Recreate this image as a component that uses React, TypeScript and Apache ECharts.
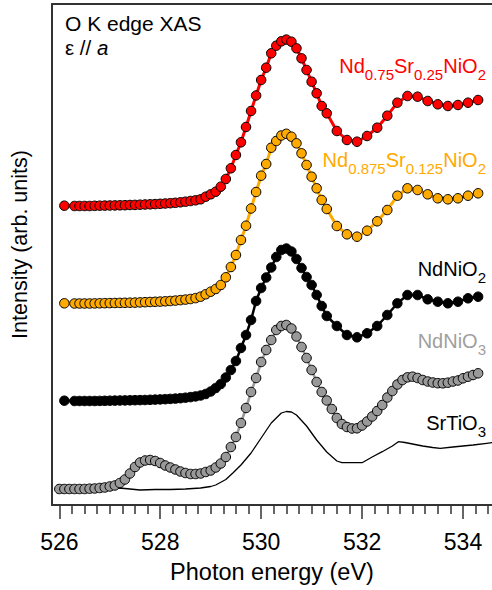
import React, { useEffect, useRef } from "react";
import * as echarts from "echarts";

// Photon energy grid (eV) of the three upper spectra
const E_MAIN = [
  526.1, 526.3, 526.4, 526.5, 526.6, 526.7, 526.8, 526.9, 527.0, 527.1, 527.2, 527.3, 527.4,
  527.5, 527.6, 527.7, 527.8, 527.9, 528.0, 528.1, 528.2, 528.3, 528.4, 528.5, 528.6, 528.7,
  528.8, 528.9, 529.0, 529.1, 529.2, 529.3, 529.4, 529.5, 529.6, 529.7, 529.8, 529.9, 530.0,
  530.1, 530.2, 530.3, 530.4, 530.5, 530.6, 530.7, 530.8, 530.9, 531.0, 531.1, 531.2, 531.3,
  531.5, 531.7, 531.9, 532.1, 532.3, 532.5, 532.7, 532.9, 533.1, 533.3, 533.5, 533.7, 533.9,
  534.1, 534.3,
];

// Nd0.75Sr0.25NiO2 (offset intensity, arb. units)
const RED = [
  299.3, 299, 299, 299, 299, 299.2, 299.3, 299.4, 299.5, 299.6, 299.7, 299.8, 300, 300.1, 300.3,
  300.5, 300.7, 300.9, 301.2, 301.5, 301.8, 302.2, 302.7, 303.3, 304, 304.7,
  305.7, 308.3, 310.7, 313.3, 318.3, 326, 336.7, 350, 362.7, 378, 394, 409.5, 425, 437.3, 451.7,
  459.3, 463.7, 465.4, 463.3, 456.7, 446.7, 435, 423.3, 411.7, 399, 391.7,
  374, 365, 363.3, 369, 377.3, 389.3, 402.3, 409, 408.3, 404, 400.7, 399, 400, 402.3, 405,
];

// Nd0.875Sr0.125NiO2
const ORANGE = [
  201.7, 201.5, 201.5, 201.5, 201.5, 201.6, 201.7, 201.8, 201.9, 202, 202.1, 202.2, 202.3, 202.4,
  202.6, 202.8, 203, 203.2, 203.4, 203.7, 204, 204.4, 204.9, 205.4, 206, 206.9,
  208.3, 210.7, 213.3, 216, 220, 227.7, 238, 250, 265, 279.3, 296.5, 313, 329.3, 341, 357.3, 364,
  369.5, 371.2, 368.3, 361.7, 351.7, 340, 328.3, 316.7, 305, 296,
  279, 270.7, 268.3, 274.3, 283.7, 295, 309.3, 316.7, 315, 310.7, 306.7, 305.7, 306.7, 309.3, 311.7,
];

// NdNiO2
const BLACK = [
  104.3, 104, 104, 104, 104, 104, 104.1, 104.2, 104.3, 104.4, 104.5, 104.6, 104.7, 104.8, 104.9,
  105, 105.2, 105.4, 105.6, 105.8, 106.1, 106.4, 106.8, 107.3, 107.9, 108.6,
  109.5, 111, 113.5, 117, 121, 127.5, 135, 144, 157, 170, 185, 204, 217, 227.5, 237.5, 248, 255,
  256.5, 253.5, 246, 237, 228, 220, 210, 199, 189,
  179, 170, 167.7, 171.7, 179, 190, 201.7, 210, 210, 205.7, 203.3, 201.7, 203.3, 206.7, 208.3,
];

// NdNiO3
const E_GRAY = [
  526.0, 526.1, 526.2, 526.3, 526.4, 526.5, 526.6, 526.7, 526.8, 526.9, 527.0, 527.1, 527.2, 527.3,
  527.4, 527.5, 527.6, 527.7, 527.8, 527.9, 528.0, 528.1, 528.2, 528.3, 528.4, 528.5, 528.6, 528.7,
  528.8, 528.9, 529.0, 529.1, 529.2, 529.3, 529.4, 529.5, 529.6, 529.7, 529.8, 529.9, 530.0, 530.1,
  530.2, 530.3, 530.4, 530.5, 530.6, 530.7, 530.8, 530.9, 531.0, 531.1, 531.2, 531.3, 531.4, 531.5,
  531.6, 531.7, 531.8, 531.9, 532.0, 532.1, 532.2, 532.3, 532.4, 532.5, 532.6, 532.7, 532.8, 532.9,
  533.0, 533.1, 533.2, 533.3, 533.4, 533.5, 533.6, 533.7, 533.8, 533.9, 534.0, 534.1, 534.2, 534.3,
];
const GRAY = [
  16, 16, 16, 16, 16, 16, 16.3, 16.5, 17, 17.5, 18.5, 19.5, 22, 25.5,
  31.5, 38, 42.5, 44.5, 45, 44, 42, 39.5, 37.5, 35.5, 33.5, 32, 31, 31,
  31.5, 33, 34.5, 37.5, 41.5, 48, 58, 68, 82, 97, 113, 127, 143, 155,
  165, 175, 179, 180, 176.5, 168.5, 158, 147, 135, 123, 113, 104.5, 96, 87,
  81, 78, 76.5, 76.7, 79.5, 83.5, 88.5, 94, 100, 107.5, 114, 120.5, 125, 127.7,
  128.3, 127, 125, 123.5, 122.5, 121.8, 121.7, 122.3, 123.5, 124.5, 126.7, 128.3, 130, 131.7,
];

// SrTiO3 (line only)
const E_STO = [
  527.0, 527.3, 527.6, 527.9, 528.2, 528.5, 528.8, 529.0, 529.1, 529.3, 529.45, 529.6, 529.8,
  530.0, 530.2, 530.4, 530.5, 530.6, 530.7, 530.9, 531.1, 531.3, 531.5, 531.6, 532.0, 532.2,
  532.4, 532.6, 532.72, 532.85, 533.0, 533.2, 533.4, 533.55, 533.8, 534.0, 534.2, 534.47, 534.6,
];
const STO = [
  17.5, 16.5, 15, 15.5, 15.5, 16, 17, 18.5, 20, 25.5, 32.5, 40, 52,
  67, 82, 92, 93.5, 93, 90, 79, 65, 53, 44, 42.3, 42.3, 48,
  53.3, 59, 63.3, 62.5, 61, 59, 57.5, 56.7, 58, 59, 60, 61.7, 62.5,
];

const MAJOR_TICKS = [526, 528, 530, 532, 534];
const MINOR_TICKS = [
  526.25, 526.5, 526.75, 527, 527.25, 527.5, 527.75, 528.25, 528.5, 528.75, 529, 529.25, 529.5,
  529.75, 530.25, 530.5, 530.75, 531, 531.25, 531.5, 531.75, 532.25, 532.5, 532.75, 533, 533.25,
  533.5, 533.75, 534.25, 534.5,
];

const X_MIN = 525.855;
const X_MAX = 534.575;
const FONT = "'Liberation Sans', Arial, Helvetica, sans-serif";
const AXIS_COLOR = "#333";

const zip = (xs: number[], ys: number[]) => xs.map((x, i) => [x, ys[i]]);

const formulaText = (parts: [string, boolean][]) =>
  parts.map(([t, sub]) => `{${sub ? "s" : "m"}|${t}}`).join("");

const richFor = (color: string) => ({
  m: { fontSize: 20, lineHeight: 32, fill: color, fontFamily: FONT },
  s: { fontSize: 15, lineHeight: 15, fill: color, fontFamily: FONT, verticalAlign: "bottom" },
});

const LABELS = [
  { parts: [["Nd", false], ["0.75", true], ["Sr", false], ["0.25", true], ["NiO", false], ["2", true]], color: "#ff0000", y: 66.4 },
  { parts: [["Nd", false], ["0.875", true], ["Sr", false], ["0.125", true], ["NiO", false], ["2", true]], color: "#ffaa00", y: 159.8 },
  { parts: [["NdNiO", false], ["2", true]], color: "#000000", y: 269.1 },
  { parts: [["NdNiO", false], ["3", true]], color: "#a0a0a0", y: 341.4 },
  { parts: [["SrTiO", false], ["3", true]], color: "#000000", y: 423.4 },
] as { parts: [string, boolean][]; color: string; y: number }[];

const markerSeries = (data: number[][], fill: string, lineColor: string, lineWidth: number) => ({
  type: "line",
  data,
  xAxisIndex: 0,
  yAxisIndex: 0,
  symbol: "circle",
  symbolSize: 9.5,
  showSymbol: true,
  lineStyle: { color: lineColor, width: lineWidth },
  itemStyle: { color: fill, borderColor: "#000", borderWidth: 1 },
  emphasis: { disabled: true },
  silent: true,
});

export default function App() {
  const ref = useRef<HTMLDivElement>(null);

  useEffect(() => {
    if (!ref.current) return;
    const chart = echarts.init(ref.current, null, { renderer: "svg" });
    const option: any = {
      animation: false,
      grid: { left: 52, right: 0, top: 4, bottom: 85, containLabel: false },
      xAxis: [
        {
          type: "value",
          position: "bottom",
          min: X_MIN,
          max: X_MAX,
          axisLine: { show: true, onZero: false, lineStyle: { color: AXIS_COLOR, width: 2 } },
          axisTick: { show: true, customValues: MAJOR_TICKS, length: 14, lineStyle: { color: AXIS_COLOR, width: 1.5 } },
          axisLabel: { show: true, customValues: MAJOR_TICKS, fontSize: 23, margin: 25, color: "#000", fontFamily: FONT },
          splitLine: { show: false },
          name: "Photon energy (eV)",
          nameLocation: "middle",
          nameGap: 55,
          nameTextStyle: { fontSize: 23.5, color: "#000", fontFamily: FONT },
        },
        {
          type: "value",
          position: "bottom",
          min: X_MIN,
          max: X_MAX,
          axisLine: { show: false, onZero: false },
          axisTick: { show: true, customValues: MINOR_TICKS, length: 9, lineStyle: { color: AXIS_COLOR, width: 1.5 } },
          axisLabel: { show: false },
          splitLine: { show: false },
        },
        {
          type: "value",
          position: "top",
          min: X_MIN,
          max: X_MAX,
          axisLine: { show: true, onZero: false, lineStyle: { color: AXIS_COLOR, width: 2 } },
          axisTick: { show: false },
          axisLabel: { show: false },
          splitLine: { show: false },
        },
      ],
      yAxis: {
        type: "value",
        min: 0,
        max: 501,
        axisLine: { show: true, onZero: false, lineStyle: { color: AXIS_COLOR, width: 2 } },
        axisTick: { show: false },
        axisLabel: { show: false },
        splitLine: { show: false },
      },
      series: [
        {
          type: "line",
          data: zip(E_STO, STO),
          symbol: "none",
          showSymbol: false,
          lineStyle: { color: "#000", width: 1.3 },
          emphasis: { disabled: true },
          silent: true,
        },
        markerSeries(zip(E_GRAY, GRAY), "#999999", "#999999", 2.5),
        markerSeries(zip(E_MAIN, BLACK), "#000000", "#000000", 2.5),
        markerSeries(zip(E_MAIN, ORANGE), "#ffaa00", "#ffaa00", 3),
        markerSeries(zip(E_MAIN, RED), "#ff0000", "#ff0000", 3),
      ],
      graphic: [
        {
          type: "text",
          x: 65,
          y: 23,
          style: { text: "O K edge XAS", fontSize: 21, fontFamily: FONT, fill: "#000", align: "left", verticalAlign: "middle" },
        },
        {
          type: "text",
          x: 65,
          y: 47.4,
          style: {
            text: "{n|ε // }{i|a}",
            align: "left",
            verticalAlign: "middle",
            rich: {
              n: { fontSize: 20.5, fontFamily: FONT, fill: "#000" },
              i: { fontSize: 20.5, fontFamily: FONT, fill: "#000", fontStyle: "italic" },
            },
          },
        },
        {
          type: "text",
          x: 20,
          y: 244.5,
          rotation: Math.PI / 2,
          style: {
            text: "Intensity (arb. units)",
            fontSize: 21.5,
            fontFamily: FONT,
            fill: "#000",
            align: "center",
            verticalAlign: "middle",
          },
        },
        ...LABELS.map((l) => ({
          type: "text",
          x: 486,
          y: l.y,
          style: {
            text: formulaText(l.parts),
            align: "right",
            verticalAlign: "middle",
            rich: richFor(l.color),
          },
        })),
      ],
    };
    chart.setOption(option);
    return () => chart.dispose();
  }, []);

  return (
    <div
      ref={ref}
      style={{ position: "absolute", left: 0, top: 0, width: 492, height: 590, background: "#fff" }}
    />
  );
}
